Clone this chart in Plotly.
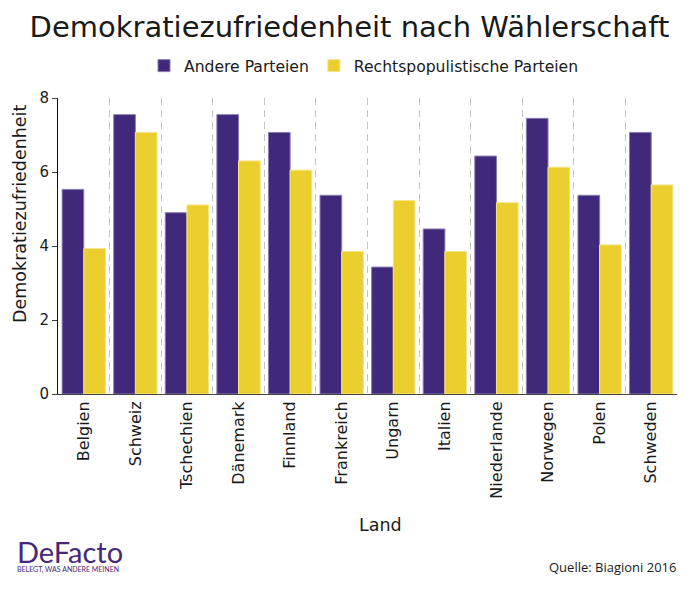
import plotly.graph_objects as go

laender = ["Belgien", "Schweiz", "Tschechien", "Dänemark", "Finnland", "Frankreich",
           "Ungarn", "Italien", "Niederlande", "Norwegen", "Polen", "Schweden"]
andere = [5.53, 7.55, 4.90, 7.55, 7.07, 5.37, 3.43, 4.46, 6.43, 7.45, 5.37, 7.07]
rechts = [3.93, 7.07, 5.11, 6.30, 6.05, 3.85, 5.23, 3.85, 5.17, 6.13, 4.03, 5.65]
y_ticks = [0, 2, 4, 6, 8]

PURPLE = "#40287a"
YELLOW = "#ebcf2e"
FONT = "DejaVu Sans"
TXT = "#1a1a1a"

# plot area in pixels: left 58, right 677, top 98, bottom 394
L, R, T, B = 58, 677, 98, 394
def px(x):
    return (x - L) / (R - L)
def py(y):
    return (B - y) / (B - T)

fig = go.Figure()
fig.add_bar(x=laender, y=andere, name="Andere Parteien",
            marker=dict(color=PURPLE, line=dict(color="#8a7bb0", width=1)))
fig.add_bar(x=laender, y=rechts, name="Rechtspopulistische Parteien",
            marker=dict(color=YELLOW, line=dict(color="#f3e48a", width=1)))

fig.update_layout(
    width=692, height=589,
    margin=dict(l=L, r=692 - R, t=T, b=589 - B),
    paper_bgcolor="white", plot_bgcolor="white",
    font=dict(family=FONT, color=TXT, size=15),
    barmode="group", bargap=0.16, bargroupgap=0,
    title=dict(text="Demokratiezufriedenheit nach Wählerschaft",
               x=349.5 / 692, xanchor="center", y=1 - 27 / 589, yanchor="middle",
               font=dict(size=29, family=FONT, color=TXT)),
    legend=dict(orientation="h", x=px(144), xanchor="left", y=py(66), yanchor="middle",
                font=dict(size=15.6), traceorder="normal", itemwidth=30),
    showlegend=True,
)
fig.update_xaxes(
    type="category", tickangle=-90, tickson="boundaries", automargin=False,
    showgrid=True, gridcolor="#c4c4c4", griddash="7px,5px", gridwidth=1.3,
    showline=True, linecolor="#444444", linewidth=1, ticks="",
    tickfont=dict(size=16),
)
fig.update_yaxes(
    range=[0, 8], tickvals=y_ticks, showgrid=False, zeroline=False, automargin=False,
    showline=True, linecolor="#111111", linewidth=1, ticks="outside", ticklen=5,
    tickfont=dict(size=15),
)

fig.add_annotation(text="Demokratiezufriedenheit", xref="paper", yref="paper",
                   x=px(20), y=py(214), xanchor="center", yanchor="middle", textangle=-90,
                   showarrow=False, font=dict(size=17.5, color=TXT))
fig.add_annotation(text="Land", xref="paper", yref="paper",
                   x=px(380), y=py(525), xanchor="center", yanchor="middle",
                   showarrow=False, font=dict(size=17.5, color=TXT))
fig.add_annotation(text="Quelle: Biagioni 2016", xref="paper", yref="paper",
                   x=px(678), xanchor="right", y=py(567), yanchor="middle",
                   showarrow=False, font=dict(size=13, color=TXT, family="Open Sans"))
fig.add_annotation(text="<span style='font-size:29px'>DeFacto</span><br>BELEGT, WAS ANDERE MEINEN",
                   xref="paper", yref="paper", align="left",
                   x=px(15), xanchor="left", y=py(576), yanchor="bottom",
                   showarrow=False, font=dict(size=7, color="#45287a", family="Lato"))

fig.write_html("out.html", config={"displayModeBar": False},
               post_script="document.body.style.margin='0';")
